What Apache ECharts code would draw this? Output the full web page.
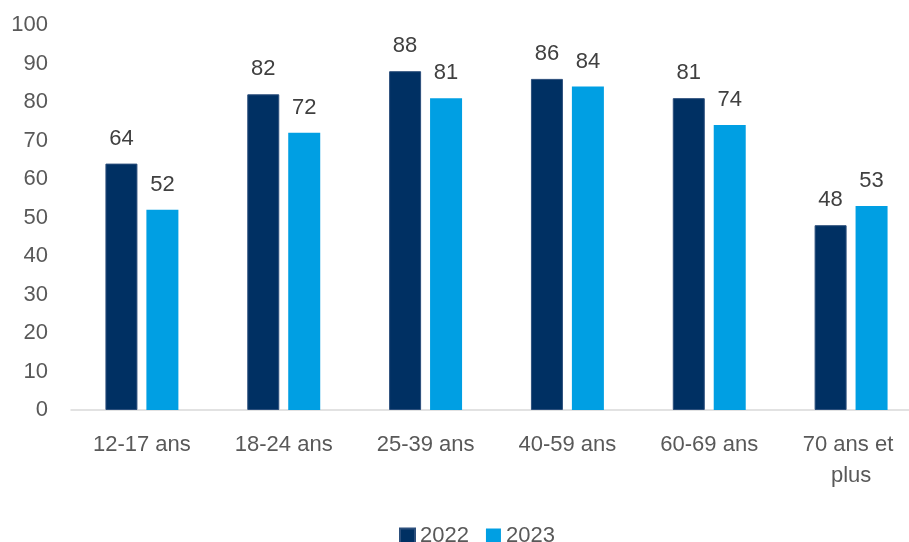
<!DOCTYPE html>
<html>
<head>
<meta charset="utf-8">
<script src="https://cdn.jsdelivr.net/npm/echarts@6/dist/echarts.min.js"></script>
<style>
  html, body { margin: 0; padding: 0; background: #fff; }
  #chart { width: 909px; height: 542px; }
</style>
</head>
<body>
<div id="chart"></div>
<script>
var categories = ['12-17 ans', '18-24 ans', '25-39 ans', '40-59 ans', '60-69 ans', '70 ans et plus'];
var values2022 = [64, 82, 88, 86, 81, 48];
var values2023 = [52, 72, 81, 84, 74, 53];
var yTicks = [0, 10, 20, 30, 40, 50, 60, 70, 80, 90, 100];

var myChart = echarts.init(document.getElementById('chart'));
var font = 'Liberation Sans, Arial, sans-serif';

myChart.setOption({
    animation: false,
    textStyle: { fontFamily: font },
    grid: { left: 71, right: -13, top: 25, bottom: 132, outerBoundsMode: 'none' },
    legend: {
        data: ['2022', '2023'],
        left: 394,
        top: 520,
        itemWidth: 15,
        itemHeight: 15,
        itemGap: 17,
        icon: 'rect',
        textStyle: { color: '#595959', fontSize: 22, fontFamily: font }
    },
    xAxis: {
        type: 'category',
        data: categories,
        axisLine: { lineStyle: { color: '#d9d9d9', width: 1.5 } },
        axisTick: { show: false },
        axisLabel: {
            color: '#595959', fontSize: 22, fontFamily: font,
            margin: 19, lineHeight: 31, interval: 0,
            width: 125, overflow: 'break'
        }
    },
    yAxis: {
        type: 'value',
        min: yTicks[0],
        max: yTicks[yTicks.length - 1],
        interval: 10,
        axisLine: { show: false },
        axisTick: { show: false },
        splitLine: { show: false }, // pas de grille
        axisLabel: { color: '#595959', fontSize: 22, fontFamily: font, margin: 23 }
    },
    series: [{
        name: '2022',
        type: 'bar',
        data: values2022,
        barWidth: 32,
        barGap: '28%',
        itemStyle: { color: '#003063', borderColor: '#2c4f7c', borderWidth: 1 },
        label: { show: true, position: 'top', distance: 14, color: '#404040', fontSize: 22, fontFamily: font }
    }, {
        name: '2023',
        type: 'bar',
        data: values2023,
        barWidth: 32,
        itemStyle: { color: '#009fe3' },
        label: { show: true, position: 'top', distance: 14, color: '#404040', fontSize: 22, fontFamily: font }
    }]
});
</script>
</body>
</html>
